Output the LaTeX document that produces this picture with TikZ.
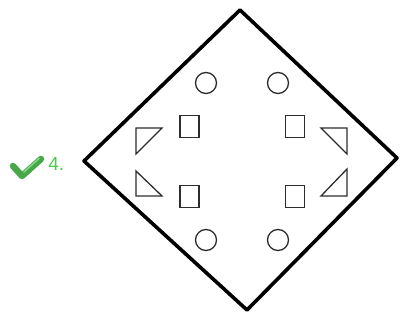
\documentclass[tikz,border=0pt]{standalone}
\usepackage{fontspec}
\setmainfont{Liberation Sans}
\definecolor{tickgreen}{RGB}{72,168,72}
\definecolor{labelgreen}{RGB}{80,200,80}
\definecolor{shapegray}{RGB}{45,45,45}

\begin{document}
\begin{tikzpicture}[x=1pt, y=-1pt, thick,
  ring/.style={circle, draw=shapegray, line width=1.3pt, minimum size=21pt, inner sep=0pt},
  box/.style={rectangle, draw=shapegray, line width=1.5pt, minimum width=19pt, minimum height=22pt, inner sep=0pt},
  wedge/.style={draw=shapegray, line width=1.3pt, line join=miter}]

	\useasboundingbox (0,0) rectangle (401,320);

	% ==================== 外框: 菱形 ====================
	\coordinate (top) at (240,10);
	\coordinate (rgt) at (397,158);
	\coordinate (bot) at (247,310);
	\coordinate (lft) at (84,161);
	\draw[line width=3.6pt, line join=round] (top) -- (rgt) -- (bot) -- (lft) -- cycle;

	% ==================== 圆 ====================
	\node[ring] (ringTL) at (206,83) {};
	\node[ring] (ringTR) at (278,83) {};
	\node[ring] (ringBL) at (206,240) {};
	\node[ring] (ringBR) at (278,240) {};

	% ==================== 方块 ====================
	\node[box] (boxTL) at (189.5,126.5) {};
	\node[box] (boxTR) at (295,126.5) {};
	\node[box] (boxBL) at (189.5,196.5) {};
	\node[box] (boxBR) at (295,196.5) {};

	% ==================== 三角形 ====================
	\draw[wedge] (136,128) -- (162,128) -- (136,154) -- cycle; % 左上
	\draw[wedge] (136,171) -- (162,196) -- (136,196) -- cycle; % 左下
	\draw[wedge] (321,128) -- (347,128) -- (347,154) -- cycle; % 右上
	\draw[wedge] (347,169) -- (347,196) -- (321,196) -- cycle; % 右下

	% ==================== 答案标记 ====================
	\draw[tickgreen, line width=6.5pt, line cap=round, line join=round] (13,166) -- (22,176) -- (41,159);
	\draw[labelgreen!70!white, line width=1.5pt, line cap=round] (24,172) -- (39,158.5);
	\node[anchor=base west, inner sep=0pt, text=labelgreen, font=\fontsize{19}{22}\selectfont] (label) at (48,171) {4.};

\end{tikzpicture}
\end{document}
